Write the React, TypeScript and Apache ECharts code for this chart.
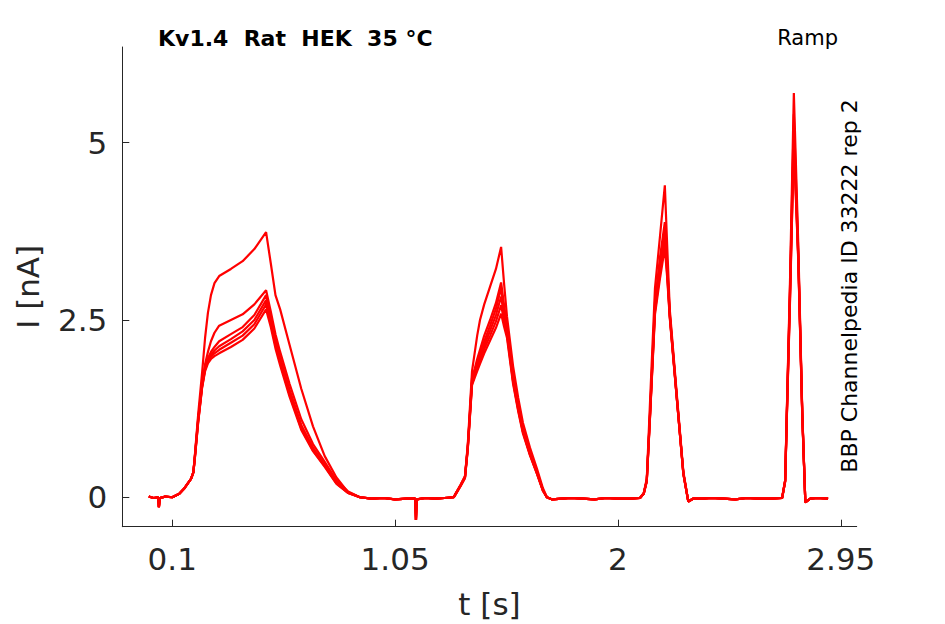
import React, { useEffect, useRef } from "react";
import * as echarts from "echarts";

// ---- data (t in s, I in nA) ----
const sweepNames = ["sweep 1", "sweep 2", "sweep 3", "sweep 4", "sweep 5", "sweep 6"];

const xTicks = [0.1, 1.05, 2, 2.95];
const xTickLabels = ["0.1", "1.05", "2", "2.95"];
const yTicks = [0, 2.5, 5];
const yTickLabels = ["0", "2.5", "5"];

// shared baseline segments
const base0T = [0.0, 0.02, 0.04, 0.043, 0.047, 0.07, 0.1, 0.13, 0.15, 0.167, 0.18, 0.19];
const base0I = [0.01, -0.01, 0.0, -0.14, -0.01, 0.01, 0.0, 0.05, 0.12, 0.2, 0.26, 0.35];

const base1T = [0.95, 1.0, 1.05, 1.1, 1.136, 1.139, 1.142, 1.18, 1.22, 1.26, 1.3];
const base1I = [-0.02, -0.01, -0.03, -0.02, -0.02, -0.32, -0.03, -0.01, -0.02, -0.01, 0.0];

const base2T = [1.72, 1.76, 1.8, 1.85, 1.9, 1.95, 2.0, 2.05, 2.094];
const base2I = [-0.03, -0.02, -0.01, -0.02, -0.03, -0.01, -0.02, -0.02, -0.01];

const base3T = [2.32, 2.36, 2.4, 2.45, 2.5, 2.55, 2.6, 2.65, 2.7];
const base3I = [-0.02, -0.02, -0.01, -0.02, -0.03, -0.01, -0.02, -0.02, -0.01];

const base4T = [2.82, 2.85, 2.896];
const base4I = [-0.02, -0.01, -0.02];

// pulse 1 (0.2 - 0.5 s)
const p1T = [0.197, 0.21, 0.227, 0.24, 0.252, 0.265, 0.28, 0.3, 0.35, 0.4, 0.45, 0.5, 0.52, 0.54, 0.56, 0.6, 0.65, 0.7, 0.75, 0.8, 0.85, 0.9];
const p1I = [
  [0.62, 1.15, 1.75, 2.25, 2.6, 2.85, 3.02, 3.12, 3.22, 3.33, 3.5, 3.74, 3.3, 2.85, 2.65, 2.15, 1.53, 1.0, 0.58, 0.28, 0.07, 0.0],
  [0.6, 1.1, 1.6, 1.88, 2.05, 2.2, 2.32, 2.42, 2.5, 2.58, 2.72, 2.92, 2.62, 2.3, 2.05, 1.6, 1.1, 0.75, 0.5, 0.24, 0.08, 0.0],
  [0.6, 1.08, 1.58, 1.84, 1.96, 2.05, 2.12, 2.2, 2.3, 2.4, 2.57, 2.85, 2.55, 2.22, 1.97, 1.52, 1.02, 0.7, 0.46, 0.21, 0.07, 0.0],
  [0.58, 1.06, 1.56, 1.82, 1.93, 2.01, 2.07, 2.13, 2.23, 2.34, 2.5, 2.78, 2.5, 2.18, 1.93, 1.48, 0.99, 0.68, 0.45, 0.2, 0.06, 0.0],
  [0.58, 1.05, 1.55, 1.8, 1.91, 1.98, 2.03, 2.08, 2.18, 2.28, 2.44, 2.72, 2.46, 2.14, 1.9, 1.45, 0.97, 0.66, 0.44, 0.2, 0.06, 0.0],
  [0.57, 1.04, 1.54, 1.78, 1.89, 1.95, 1.99, 2.03, 2.12, 2.22, 2.38, 2.65, 2.4, 2.1, 1.86, 1.42, 0.95, 0.65, 0.43, 0.19, 0.06, 0.0],
];

// pulse 2 (1.3 - 1.5 s)
const p2T = [1.306, 1.33, 1.348, 1.36, 1.378, 1.39, 1.4, 1.412, 1.43, 1.455, 1.48, 1.502, 1.515, 1.527, 1.553, 1.575, 1.595, 1.625, 1.655, 1.68, 1.697];
const p2I = [
  [0.04, 0.18, 0.3, 0.75, 1.78, 2.05, 2.28, 2.5, 2.72, 2.97, 3.22, 3.53, 3.0, 2.55, 1.85, 1.4, 1.05, 0.7, 0.4, 0.13, 0.0],
  [0.04, 0.18, 0.29, 0.72, 1.68, 1.82, 1.95, 2.08, 2.28, 2.5, 2.74, 3.03, 2.7, 2.42, 1.72, 1.3, 0.97, 0.64, 0.36, 0.11, 0.0],
  [0.04, 0.17, 0.29, 0.71, 1.65, 1.78, 1.9, 2.02, 2.2, 2.42, 2.66, 2.95, 2.62, 2.37, 1.68, 1.27, 0.95, 0.62, 0.35, 0.1, 0.0],
  [0.03, 0.17, 0.28, 0.7, 1.62, 1.75, 1.86, 1.97, 2.14, 2.35, 2.57, 2.83, 2.55, 2.33, 1.65, 1.25, 0.93, 0.61, 0.34, 0.1, 0.0],
  [0.03, 0.17, 0.28, 0.69, 1.6, 1.72, 1.82, 1.93, 2.09, 2.28, 2.48, 2.71, 2.48, 2.29, 1.63, 1.23, 0.92, 0.6, 0.33, 0.1, 0.0],
  [0.03, 0.16, 0.27, 0.68, 1.58, 1.69, 1.78, 1.88, 2.03, 2.21, 2.39, 2.59, 2.4, 2.25, 1.6, 1.21, 0.9, 0.59, 0.33, 0.09, 0.0],
];

// pulse 3 (2.1 - 2.2 s)
const p3T = [2.11, 2.123, 2.137, 2.158, 2.18, 2.2, 2.21, 2.221, 2.251, 2.279, 2.3];
const p3I = [
  [0.06, 0.26, 1.35, 2.95, 3.7, 4.4, 3.55, 2.65, 1.45, 0.36, -0.06],
  [0.05, 0.24, 1.2, 2.75, 3.4, 3.88, 3.3, 2.6, 1.42, 0.34, -0.06],
  [0.05, 0.24, 1.18, 2.7, 3.32, 3.8, 3.25, 2.58, 1.41, 0.34, -0.06],
  [0.05, 0.23, 1.16, 2.65, 3.25, 3.7, 3.2, 2.56, 1.4, 0.33, -0.06],
  [0.05, 0.23, 1.15, 2.62, 3.18, 3.62, 3.15, 2.55, 1.4, 0.33, -0.06],
  [0.05, 0.22, 1.14, 2.58, 3.1, 3.52, 3.1, 2.53, 1.39, 0.33, -0.06],
];

// pulse 4 (2.7 - 2.75 s)
const p4T = [2.713, 2.72, 2.734, 2.75, 2.769, 2.786, 2.799];
const p4I = [
  [0.24, 1.2, 3.1, 5.7, 3.55, 1.2, -0.07],
  [0.24, 1.18, 3.0, 5.4, 3.45, 1.18, -0.07],
  [0.23, 1.15, 2.95, 5.25, 3.4, 1.17, -0.07],
  [0.23, 1.13, 2.9, 5.12, 3.38, 1.16, -0.07],
  [0.22, 1.12, 2.85, 5.04, 3.35, 1.15, -0.07],
  [0.22, 1.1, 2.8, 4.98, 3.32, 1.14, -0.07],
];

const pairs = (t: number[], v: number[]) => t.map((x, i) => [x, v[i]]);

function sweep(k: number) {
  return [
    ...pairs(base0T, base0I),
    ...pairs(p1T, p1I[k]),
    ...pairs(base1T, base1I),
    ...pairs(p2T, p2I[k]),
    ...pairs(base2T, base2I),
    ...pairs(p3T, p3I[k]),
    ...pairs(base3T, base3I),
    ...pairs(p4T, p4I[k]),
    ...pairs(base4T, base4I),
  ];
}

const FONT = "DejaVu Sans";
const AXIS = "#262626";

export default function App() {
  const ref = useRef<HTMLDivElement>(null);
  useEffect(() => {
    if (!ref.current) return;
    const chart = echarts.init(ref.current, null, { renderer: "svg" });
    chart.setOption({
      animation: false,
      backgroundColor: "#ffffff",
      grid: { left: 122.3, right: 88.3, top: 47, bottom: 97.3, containLabel: false, outerBoundsMode: "none" },
      xAxis: {
        type: "value",
        min: -0.113,
        max: 3.018,
        name: "t [s]",
        nameLocation: "middle",
        nameGap: 62,
        nameTextStyle: { fontSize: 31, color: AXIS, fontFamily: FONT },
        axisLine: { show: true, onZero: false, lineStyle: { color: AXIS, width: 1 } },
        axisTick: { show: true, inside: true, length: 7, customValues: xTicks, lineStyle: { color: AXIS } },
        axisLabel: {
          customValues: xTicks,
          margin: 17,
          fontSize: 31,
          color: AXIS,
          fontFamily: FONT,
          formatter: (v: number) => xTickLabels[xTicks.indexOf(v)] ?? String(v),
        },
        splitLine: { show: false },
      },
      yAxis: {
        type: "value",
        min: -0.415,
        max: 6.35,
        name: "I [nA]",
        nameLocation: "middle",
        nameGap: 79,
        nameTextStyle: { fontSize: 31, color: AXIS, fontFamily: FONT },
        axisLine: { show: true, onZero: false, lineStyle: { color: AXIS, width: 1 } },
        axisTick: { show: true, inside: true, length: 7, customValues: yTicks, lineStyle: { color: AXIS } },
        axisLabel: {
          customValues: yTicks,
          margin: 15,
          fontSize: 31,
          color: AXIS,
          fontFamily: FONT,
          formatter: (v: number) => yTickLabels[yTicks.indexOf(v)] ?? String(v),
        },
        splitLine: { show: false },
      },
      graphic: [
        {
          type: "text",
          left: 158,
          top: 27,
          style: { text: "Kv1.4  Rat  HEK  35 °C", font: `bold 22px '${FONT}'`, fill: "#000000" },
        },
        {
          type: "text",
          right: 107,
          top: 27,
          style: { text: "Ramp", font: `21px '${FONT}'`, fill: "#000000" },
        },
        {
          type: "text",
          x: 849,
          y: 286,
          rotation: Math.PI / 2,
          style: {
            text: "BBP Channelpedia ID 33222 rep 2",
            font: `22px '${FONT}'`,
            fill: "#000000",
            align: "center",
            verticalAlign: "middle",
          },
        },
      ],
      series: sweepNames.map((name, k) => ({
        name,
        type: "line",
        data: sweep(k),
        showSymbol: false,
        symbol: "none",
        lineStyle: { color: "#ff0000", width: 2.2 },
        itemStyle: { color: "#ff0000" },
        z: 2,
      })),
    });
    return () => chart.dispose();
  }, []);
  return (
    <div
      ref={ref}
      style={{ position: "fixed", left: 0, top: 0, width: 945, height: 624, background: "#fff" }}
    />
  );
}
